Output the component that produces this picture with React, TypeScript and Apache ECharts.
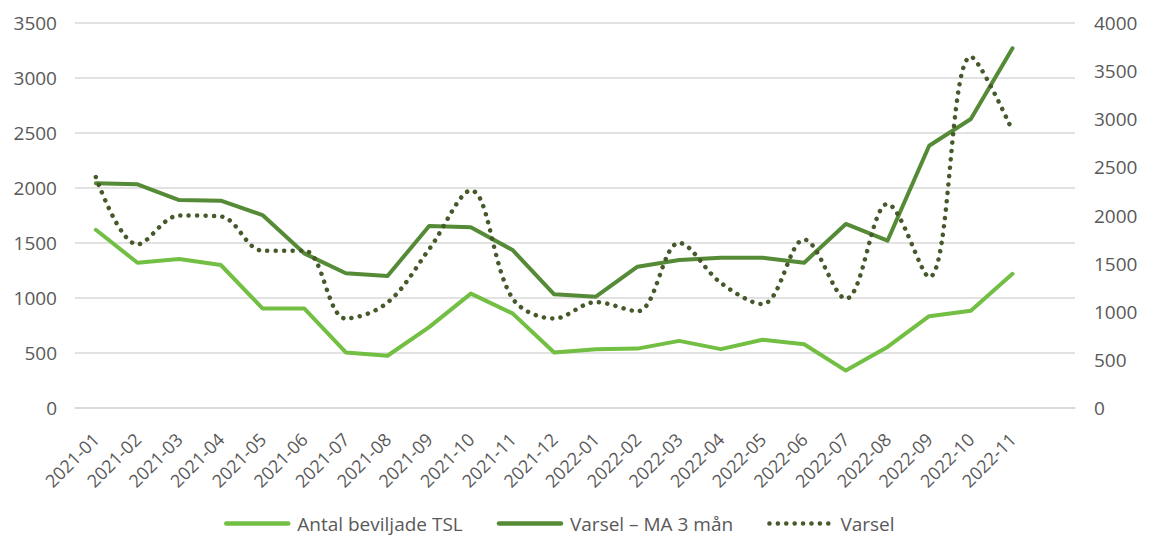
import React, { useEffect, useRef } from "react";
import * as echarts from "echarts";

const categories = [
  "2021-01", "2021-02", "2021-03", "2021-04", "2021-05", "2021-06",
  "2021-07", "2021-08", "2021-09", "2021-10", "2021-11", "2021-12",
  "2022-01", "2022-02", "2022-03", "2022-04", "2022-05", "2022-06",
  "2022-07", "2022-08", "2022-09", "2022-10", "2022-11", "",
];

const antalTSL = [
  1620, 1320, 1355, 1300, 905, 905, 505, 475, 735, 1040, 860, 505,
  535, 540, 610, 535, 620, 580, 340, 555, 835, 885, 1220,
];

const varselMA = [
  2335, 2324, 2161, 2154, 2005, 1607, 1400, 1371, 1891, 1877, 1642, 1181,
  1157, 1468, 1538, 1562, 1560, 1510, 1912, 1738, 2725, 3003, 3737,
];

const varsel = [
  2400, 1700, 2000, 1990, 1635, 1635, 930, 1095, 1650, 2260, 1140, 930,
  1100, 1005, 1715, 1300, 1080, 1750, 1135, 2120, 1360, 3650, 2880,
];

const leftTicks = { min: 0, max: 3500, interval: 500 };
const rightTicks = { min: 0, max: 4000, interval: 500 };

const FONT = "'Open Sans', Lato, sans-serif";
const LABEL_COLOR = "#595959";

export default function App() {
  const ref = useRef<HTMLDivElement>(null);

  useEffect(() => {
    if (!ref.current) return;
    const chart = echarts.init(ref.current, undefined, { renderer: "svg" });
    const plain = (v: number) => String(v);
    chart.setOption({
      animation: false,
      textStyle: { fontFamily: FONT },
      grid: { left: 75, right: 78, top: 23, bottom: 130, containLabel: false },
      legend: {
        top: 514,
        left: 224,
        padding: 0,
        itemWidth: 62,
        itemHeight: 14,
        itemGap: 34,
        itemStyle: { opacity: 0 },
        lineStyle: { width: 4.5 },
        textStyle: { fontSize: 19, color: LABEL_COLOR, fontFamily: FONT, padding: [0, 0, 0, 4] },
        data: ["Antal beviljade TSL", "Varsel – MA 3 mån", "Varsel"],
      },
      xAxis: {
        type: "category",
        data: categories,
        boundaryGap: true,
        axisLine: { show: true, lineStyle: { color: "#d9d9d9", width: 1.5 } },
        axisTick: { show: false },
        axisLabel: {
          rotate: 45,
          interval: 0,
          fontSize: 18,
          color: LABEL_COLOR,
          fontFamily: FONT,
          margin: 28,
        },
      },
      yAxis: [
        {
          type: "value",
          ...leftTicks,
          axisLine: { show: false },
          axisTick: { show: false },
          axisLabel: { fontSize: 19, color: LABEL_COLOR, fontFamily: FONT, margin: 18, formatter: plain },
          splitLine: { lineStyle: { color: "#d9d9d9", width: 1.5 } },
        },
        {
          type: "value",
          ...rightTicks,
          axisLine: { show: false },
          axisTick: { show: false },
          axisLabel: { fontSize: 19, color: LABEL_COLOR, fontFamily: FONT, margin: 19, formatter: plain },
          splitLine: { show: false },
        },
      ],
      series: [
        {
          name: "Antal beviljade TSL",
          type: "line",
          yAxisIndex: 0,
          data: antalTSL,
          symbol: "none",
          lineStyle: { color: "#72bf44", width: 4, cap: "round", join: "round" },
          itemStyle: { color: "#72bf44" },
        },
        {
          name: "Varsel – MA 3 mån",
          type: "line",
          yAxisIndex: 1,
          data: varselMA,
          symbol: "none",
          lineStyle: { color: "#558a36", width: 4, cap: "round", join: "round" },
          itemStyle: { color: "#558a36" },
        },
        {
          name: "Varsel",
          type: "line",
          yAxisIndex: 1,
          data: varsel,
          symbol: "none",
          smooth: 0.35,
          lineStyle: { color: "#45592a", width: 4.5, type: [0.1, 8.3], cap: "round" },
          itemStyle: { color: "#45592a" },
        },
      ],
    });
    return () => chart.dispose();
  }, []);

  return (
    <div
      ref={ref}
      style={{ position: "fixed", left: 0, top: 0, width: 1153, height: 538, background: "#fff" }}
    />
  );
}
